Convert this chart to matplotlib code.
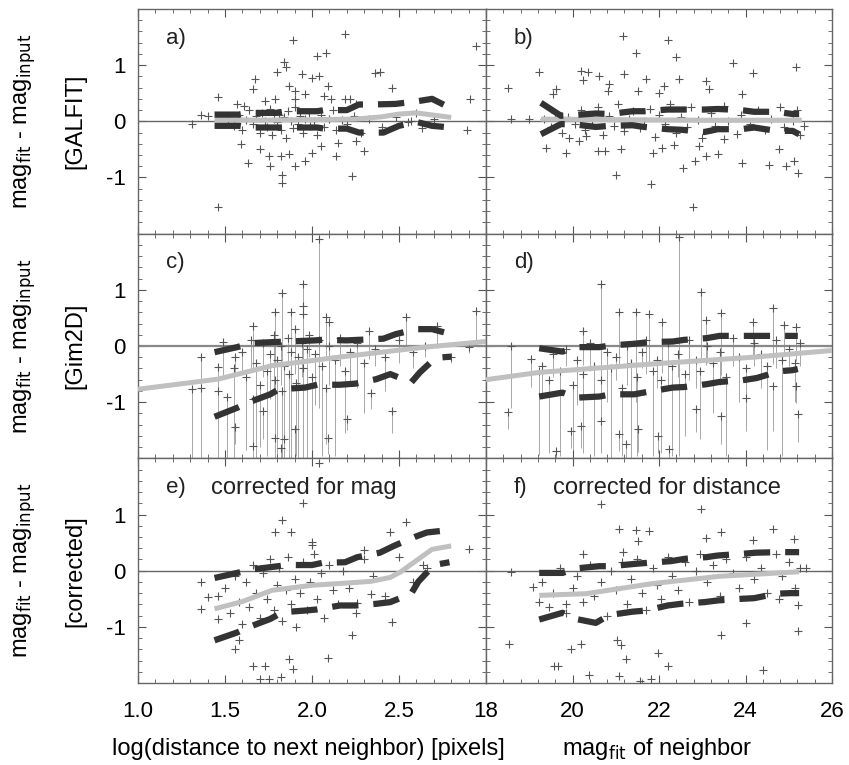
import matplotlib.pyplot as plt
from matplotlib.ticker import MultipleLocator

plt.rcParams['font.family'] = ['Liberation Sans', 'DejaVu Sans']
plt.rcParams['axes.unicode_minus'] = False

# ---- panel a) GALFIT vs log distance ----
a_x = [2.19, 1.89, 2.94, 2.03, 2.08, 1.84, 1.85, 1.80, 1.94, 2.00,
       2.36, 2.39, 1.67, 1.66, 1.87, 1.90, 2.04, 2.09, 2.46, 1.46,
       1.57, 1.61, 1.73, 1.79, 1.90, 1.96, 2.07, 2.11, 2.19, 2.22,
       2.25, 2.91, 1.36, 1.40, 1.31, 2.89, 1.59, 1.70, 1.75, 1.63,
       1.76, 1.82, 1.87, 1.90, 1.83, 1.83, 1.96, 2.00, 2.05, 2.14,
       2.15, 2.23, 2.25, 2.30, 1.46, 2.63, 2.57,
       1.52, 1.55, 1.58, 1.60, 1.62, 1.64, 1.66, 1.68, 1.70, 1.71,
       1.73, 1.74, 1.76, 1.77, 1.78, 1.80, 1.81, 1.82, 1.84, 1.85,
       1.86, 1.88, 1.89, 1.90, 1.92, 1.93, 1.95, 1.96, 1.98, 1.99,
       2.01, 2.03, 2.05, 2.07, 2.10, 2.12, 2.14, 2.17, 2.20, 2.24,
       2.28, 2.33, 2.40, 2.48, 2.55, 2.60, 2.70]
a_y = [1.55, 1.45, 1.35, 1.17, 1.21, 1.05, 0.96, 0.87, 0.84, 0.78,
       0.86, 0.87, 0.75, 0.57, 0.63, 0.54, 0.81, 0.63, 0.60, 0.44,
       0.30, 0.27, 0.36, 0.39, 0.39, 0.48, 0.45, 0.39, 0.39, 0.39,
       0.30, 0.40, 0.11, 0.10, -0.05, -0.15, -0.41, -0.50, -0.62, -0.74,
       -0.80, -0.62, -0.59, -0.80, -0.95, -1.10, -0.71, -0.56, -0.44, -0.62,
       -0.38, -0.98, -0.35, -0.53, -1.52, -0.11, 0.00,
       0.05, -0.08, 0.12, -0.15, 0.02, 0.20, -0.05, 0.10, -0.20, 0.15,
       0.00, -0.10, 0.22, -0.25, 0.05, -0.02, 0.12, -0.15, 0.08, -0.30,
       0.18, 0.00, -0.12, 0.25, -0.05, 0.10, -0.20, 0.05, 0.15, -0.08,
       0.00, -0.25, 0.12, -0.10, 0.05, 0.20, -0.15, 0.02, -0.05, 0.10,
       -0.20, 0.05, -0.10, 0.08, -0.02, 0.15, 0.05]
a_up_x = [1.44, 1.58, 1.65, 1.79, 1.85, 2.03, 2.07, 2.20, 2.27, 2.35, 2.48, 2.61, 2.69, 2.80]
a_up_y = [0.12, 0.12, 0.15, 0.15, 0.18, 0.18, 0.20, 0.20, 0.30, 0.30, 0.31, 0.36, 0.40, 0.23]
a_lo_x = [1.44, 1.58, 1.65, 1.79, 1.85, 2.03, 2.07, 2.20, 2.27, 2.41, 2.50, 2.60, 2.69, 2.80]
a_lo_y = [-0.08, -0.08, -0.11, -0.11, -0.11, -0.11, -0.13, -0.13, -0.20, -0.20, -0.08, -0.01, -0.08, -0.11]
a_med_x = [1.44, 1.70, 2.00, 2.25, 2.40, 2.50, 2.60, 2.80]
a_med_y = [0.03, 0.02, 0.03, 0.04, 0.08, 0.13, 0.15, 0.07]

# ---- panel b) GALFIT vs neighbour mag ----
b_x = [21.16, 22.20, 21.47, 22.39, 23.70, 25.17, 19.23, 20.20, 20.35, 20.62,
       21.20, 24.17, 18.50, 19.62, 19.54, 20.24, 20.85, 20.81, 21.70, 21.51,
       22.12, 22.01, 22.47, 23.09, 23.15, 23.93, 19.00, 18.58, 19.39, 19.85,
       20.16, 20.58, 20.74, 21.00, 21.12, 21.85, 21.81, 22.08, 22.35, 22.55,
       22.78, 22.84, 22.93, 23.09, 23.36, 23.51, 23.93, 24.54, 24.78, 24.94,
       25.13, 25.21, 25.36, 19.93, 20.31,
       19.35, 19.50, 19.60, 19.75, 19.90, 20.05, 20.20, 20.30, 20.45, 20.60,
       20.70, 20.85, 20.95, 21.05, 21.20, 21.30, 21.40, 21.55, 21.65, 21.80,
       21.90, 22.00, 22.15, 22.25, 22.40, 22.50, 22.65, 22.75, 22.90, 23.00,
       23.20, 23.30, 23.50, 23.60, 23.80, 23.90, 24.10, 24.30, 24.45, 24.60,
       24.80, 24.90, 25.10, 25.20, 25.25]
b_y = [1.52, 1.45, 1.21, 1.15, 1.04, 0.96, 0.87, 0.90, 0.87, 0.81,
       0.84, 0.86, 0.60, 0.57, 0.48, 0.74, 0.66, 0.54, 0.75, 0.54,
       0.63, 0.51, 0.75, 0.72, 0.57, 0.48, 0.04, 0.04, -0.47, -0.57,
       -0.35, -0.53, -0.53, -0.96, -0.50, -0.56, -1.11, -0.47, -0.43, -0.83,
       -1.52, -0.71, -0.44, -0.62, -0.59, -0.32, -0.74, -0.77, -0.50, -0.80,
       -0.71, -0.92, -0.08, -0.29, -0.26,
       0.05, -0.10, 0.15, -0.20, 0.08, -0.05, 0.20, -0.15, 0.02, 0.25,
       -0.25, 0.10, -0.08, 0.30, -0.18, 0.05, 0.18, -0.12, 0.00, 0.22,
       -0.28, 0.12, -0.05, 0.30, -0.20, 0.08, -0.10, 0.25, 0.02, -0.30,
       0.15, -0.08, 0.28, 0.00, -0.22, 0.12, -0.05, 0.20, -0.15, 0.05,
       0.25, -0.10, 0.00, 0.20, -0.25]
b_up_x = [19.27, 19.73, 20.00, 20.54, 20.85, 21.39, 21.66, 22.20, 22.51, 23.05, 23.36, 23.90, 24.20, 24.71, 25.09, 25.24]
b_up_y = [0.33, 0.10, 0.11, 0.14, 0.13, 0.18, 0.18, 0.21, 0.21, 0.21, 0.22, 0.20, 0.17, 0.17, 0.13, 0.13]
b_lo_x = [19.27, 19.73, 20.00, 20.54, 20.85, 21.39, 21.66, 22.20, 22.51, 23.05, 23.36, 23.90, 24.20, 24.71, 25.09, 25.24]
b_lo_y = [-0.23, -0.05, -0.05, -0.10, -0.08, -0.07, -0.10, -0.14, -0.15, -0.19, -0.14, -0.14, -0.11, -0.17, -0.17, -0.23]
b_med_x = [19.27, 21.0, 23.0, 25.3]
b_med_y = [0.04, 0.03, 0.02, 0.02]

# ---- panel c) Gim2D vs log distance (with error bars) ----
c_x = [2.04, 1.95, 1.83, 1.79, 1.88, 1.95, 1.95, 1.66, 2.94, 2.54,
       2.72, 2.33, 2.08, 2.10, 1.49, 1.36, 1.36, 1.46, 1.46, 1.56,
       1.56, 1.66, 1.66, 1.72, 1.79, 1.82, 1.84, 1.90, 2.09, 2.20,
       2.46, 2.34, 2.80, 2.90,
       1.55, 1.60, 1.62, 1.65, 1.68, 1.70, 1.72, 1.74, 1.76, 1.78,
       1.79, 1.80, 1.82, 1.83, 1.84, 1.86, 1.87, 1.88, 1.90, 1.91,
       1.92, 1.94, 1.95, 1.97, 1.98, 2.00, 2.02, 2.04, 2.06, 2.08,
       2.10, 2.13, 2.16, 2.19, 2.22, 2.26, 2.30, 2.36, 2.42, 2.50,
       2.58, 2.65, 1.31, 1.51]
c_y = [1.91, 1.11, 0.94, 0.60, 0.60, 0.72, 0.57, 0.36, 0.62, 0.51,
       0.36, 0.27, 0.51, 0.42, 0.08, -0.19, -0.74, -0.38, -0.80, -0.20,
       -1.45, -0.95, -1.78, -1.15, -1.63, -1.81, -1.66, -1.48, -1.63, -1.30,
       -1.15, -0.83, -0.20, -0.02,
       -0.40, -0.10, -0.55, 0.10, -0.30, -0.70, 0.05, -0.45, -0.15, 0.20,
       -0.60, -0.25, 0.00, -0.80, -0.35, 0.15, -0.50, -0.10, 0.30, -0.65,
       -0.20, 0.05, -0.40, -0.05, 0.20, -0.55, -0.15, 0.10, -0.35, -0.75,
       0.00, -0.25, 0.15, -0.45, -0.10, 0.05, -0.30, -0.05, -0.20, 0.10,
       -0.10, 0.00, -0.77, -0.90]
c_err = [1.9, 1.1, 1.2, 0.9, 1.3, 0.8, 1.0, 0.8, 0.6, 0.5,
         0.4, 0.5, 0.7, 0.9, 0.6, 0.5, 1.3, 0.4, 1.2, 0.3,
         0.3, 0.9, 0.3, 0.5, 0.3, 0.2, 0.3, 0.5, 0.3, 0.2,
         0.4, 0.3, 0.1, 0.1,
         1.6, 0.4, 1.3, 0.5, 1.7, 1.1, 0.6, 1.5, 0.8, 1.0,
         1.4, 1.8, 0.7, 1.2, 2.0, 0.5, 1.5, 1.9, 0.8, 1.3,
         1.8, 0.6, 1.6, 2.1, 0.4, 1.4, 0.9, 1.2, 1.6, 1.0,
         0.7, 1.7, 0.5, 1.1, 0.6, 0.8, 0.9, 0.3, 0.6, 0.4,
         0.3, 0.2, 1.3, 1.2]
c_up_x = [1.44, 1.57, 1.65, 1.78, 1.86, 2.02, 2.06, 2.20, 2.27, 2.41, 2.48, 2.60, 2.69, 2.80]
c_up_y = [-0.11, -0.02, 0.05, 0.07, 0.08, 0.10, 0.11, 0.10, 0.11, 0.13, 0.21, 0.30, 0.30, 0.21]
c_lo_x = [1.44, 1.57, 1.63, 1.76, 1.81, 1.96, 2.03, 2.16, 2.25, 2.37, 2.45, 2.57, 2.62, 2.71, 2.80]
c_lo_y = [-1.26, -1.10, -1.01, -0.86, -0.77, -0.74, -0.69, -0.69, -0.67, -0.59, -0.50, -0.65, -0.47, -0.21, -0.19]
c_med_x = [1.0, 1.46, 1.77, 2.15, 2.65, 3.0]
c_med_y = [-0.77, -0.59, -0.35, -0.20, -0.02, 0.08]

# ---- panel d) Gim2D vs neighbour mag (with error bars) ----
d_x = [22.47, 20.66, 22.97, 24.63, 21.08, 21.47, 21.78, 23.43, 24.17, 22.08,
       23.09, 20.24, 24.90, 25.17, 18.58, 18.52, 19.04, 19.23, 19.97, 20.20,
       19.62, 20.66, 21.08, 21.24, 21.51, 21.97, 22.22, 22.86, 23.43, 24.01,
       24.63, 25.21, 25.17,
       19.30, 19.45, 19.55, 19.70, 19.85, 20.00, 20.10, 20.25, 20.40, 20.50,
       20.65, 20.80, 20.90, 21.00, 21.15, 21.25, 21.35, 21.50, 21.60, 21.70,
       21.85, 21.95, 22.05, 22.20, 22.30, 22.45, 22.60, 22.70, 22.85, 22.95,
       23.10, 23.25, 23.40, 23.55, 23.70, 23.85, 24.00, 24.20, 24.35, 24.50,
       24.70, 24.85, 25.00, 25.15, 25.25]
d_y = [1.94, 1.11, 0.96, 0.68, 0.60, 0.60, 0.57, 0.58, 0.42, 0.42,
       0.46, 0.27, 0.38, 0.33, 0.00, -1.18, -0.23, -0.44, -1.51, -1.42,
       -1.87, -1.33, -1.57, -1.75, -1.48, -1.60, -1.84, -1.13, -1.24, -0.92,
       -0.71, -1.21, -0.71,
       -0.35, -0.60, -0.15, -0.45, -0.05, -0.70, -0.25, -0.50, 0.05, -0.35,
       -0.60, -0.10, -0.40, -0.20, -0.75, 0.00, -0.30, -0.55, -0.10, 0.10,
       -0.45, -0.25, -0.60, 0.05, -0.35, -0.15, -0.50, 0.10, -0.25, -0.45,
       0.00, -0.30, -0.10, -0.55, 0.15, -0.20, -0.40, 0.05, -0.15, -0.35,
       0.10, -0.25, -0.05, -0.30, 0.05]
d_err = [3.9, 2.9, 1.2, 1.0, 1.0, 1.6, 0.9, 1.1, 0.6, 0.9,
         0.8, 0.6, 0.5, 0.6, 1.1, 0.3, 0.5, 1.5, 0.3, 0.4,
         0.2, 0.5, 0.3, 0.3, 0.4, 0.3, 0.2, 0.4, 0.5, 0.6,
         0.8, 0.5, 0.3,
         0.6, 1.3, 0.4, 1.5, 0.3, 1.2, 0.8, 1.4, 0.5, 1.6,
         1.3, 0.9, 1.6, 0.4, 1.2, 0.7, 1.7, 1.4, 0.3, 0.6,
         1.5, 0.5, 1.3, 0.8, 1.6, 0.4, 1.1, 0.7, 0.5, 1.2,
         0.3, 0.9, 0.6, 1.4, 0.5, 0.8, 1.0, 0.4, 0.6, 1.5,
         0.5, 1.7, 0.3, 0.7, 0.4]
d_up_x = [19.23, 19.77, 20.08, 20.62, 20.89, 21.43, 21.78, 22.32, 22.59, 23.10, 23.40, 23.93, 24.26, 24.78, 25.09, 25.21]
d_up_y = [-0.04, -0.10, -0.02, -0.02, 0.01, 0.04, 0.07, 0.08, 0.11, 0.14, 0.18, 0.18, 0.18, 0.18, 0.18, 0.18]
d_lo_x = [19.23, 19.77, 20.08, 20.62, 20.89, 21.43, 21.78, 22.32, 22.59, 23.10, 23.40, 23.93, 24.26, 24.78, 25.09, 25.21]
d_lo_y = [-0.90, -0.83, -0.92, -0.90, -0.86, -0.86, -0.81, -0.74, -0.73, -0.68, -0.64, -0.61, -0.57, -0.45, -0.43, -0.41]
d_med_x = [18.0, 19.23, 21.85, 24.17, 26.0]
d_med_y = [-0.60, -0.47, -0.32, -0.20, -0.08]

# ---- panel e) corrected for mag, vs log distance ----
e_x = [2.04, 1.95, 1.83, 1.79, 1.88, 2.00, 2.00, 2.54, 2.45, 2.30,
       2.90, 2.64, 1.36, 1.36, 1.40, 1.46, 1.46, 1.56, 1.58, 1.66,
       1.73, 1.70, 1.75, 1.87, 1.89, 1.82, 2.09, 2.23, 2.46, 2.34,
       2.26,
       1.50, 1.53, 1.56, 1.58, 1.60, 1.62, 1.64, 1.66, 1.68, 1.70,
       1.72, 1.74, 1.76, 1.78, 1.80, 1.81, 1.83, 1.85, 1.86, 1.88,
       1.90, 1.91, 1.93, 1.95, 1.97, 1.99, 2.01, 2.03, 2.05, 2.07,
       2.10, 2.12, 2.15, 2.18, 2.21, 2.25, 2.30, 2.35, 2.42, 2.50,
       2.58, 2.66]
e_y = [1.91, 1.21, 0.91, 0.68, 0.68, 0.51, 0.45, 0.87, 0.68, 0.36,
       0.38, 0.10, -0.21, -0.69, -0.47, -0.45, -0.86, -1.40, -1.24, -1.69,
       -1.69, -1.92, -1.93, -1.57, -1.75, -1.90, -1.55, -1.15, -0.92, -0.41,
       -0.57,
       -0.30, -0.75, -0.10, -0.55, -0.95, -0.20, -0.65, 0.10, -0.40, -0.85,
       -0.05, -0.50, 0.20, -0.70, -0.25, 0.05, -0.90, -0.35, 0.25, -0.60,
       -0.15, -1.00, -0.40, 0.15, -0.70, -0.20, 0.30, -0.50, -0.05, -0.85,
       0.10, -0.35, -0.60, 0.00, -0.30, -0.75, 0.20, -0.10, -0.45, 0.25,
       -0.20, 0.05]
e_up_x = [1.44, 1.57, 1.65, 1.78, 1.86, 2.00, 2.06, 2.19, 2.26, 2.39, 2.47, 2.59, 2.66, 2.78]
e_up_y = [-0.13, -0.04, 0.02, 0.07, 0.10, 0.10, 0.14, 0.15, 0.24, 0.32, 0.44, 0.60, 0.68, 0.72]
e_lo_x = [1.44, 1.57, 1.64, 1.76, 1.83, 1.96, 2.03, 2.16, 2.25, 2.37, 2.45, 2.57, 2.61, 2.70, 2.79]
e_lo_y = [-1.24, -1.10, -1.00, -0.86, -0.74, -0.71, -0.69, -0.62, -0.62, -0.59, -0.56, -0.41, -0.20, 0.10, 0.15]
e_med_x = [1.44, 1.60, 1.77, 2.00, 2.20, 2.34, 2.45, 2.51, 2.60, 2.69, 2.80]
e_med_y = [-0.68, -0.55, -0.35, -0.26, -0.22, -0.19, -0.12, -0.02, 0.18, 0.38, 0.44]

# ---- panel f) corrected for distance, vs neighbour mag ----
f_x = [20.66, 22.97, 21.08, 21.47, 21.78, 24.63, 23.43, 23.09, 24.17, 25.13,
       21.51, 21.16, 20.24, 18.58, 19.08, 19.23, 19.85, 18.54, 19.97, 20.20,
       19.66, 19.58, 20.39, 21.08, 21.04, 21.12, 21.24, 21.97, 22.20, 24.40,
       23.43, 24.01, 25.21, 25.21, 24.78, 25.40, 21.55, 21.81,
       19.30, 19.45, 19.55, 19.70, 19.85, 20.00, 20.10, 20.25, 20.40, 20.50,
       20.65, 20.80, 20.90, 21.00, 21.15, 21.25, 21.35, 21.50, 21.60, 21.70,
       21.85, 21.95, 22.05, 22.20, 22.30, 22.45, 22.60, 22.70, 22.85, 22.95,
       23.10, 23.25, 23.40, 23.55, 23.70, 23.85, 24.00, 24.20, 24.35, 24.50,
       24.70, 24.85, 25.00, 25.15, 25.25]
f_y = [1.18, 1.09, 0.75, 0.72, 0.70, 0.75, 0.68, 0.59, 0.55, 0.56,
       0.52, 0.33, 0.30, -0.02, -0.29, -0.56, -0.59, -1.30, -1.40, -1.30,
       -1.69, -1.69, -1.86, -1.87, -1.24, -1.33, -1.57, -1.47, -1.70, -1.77,
       -1.14, -0.93, -1.07, -0.62, -0.50, 0.04, -1.96, -1.93,
       -0.20, -0.65, -0.40, 0.05, -0.75, -0.30, -0.10, -0.55, 0.10, -0.45,
       -0.20, -0.80, 0.00, -0.35, 0.15, -0.60, -0.15, 0.20, -0.40, -0.70,
       0.05, -0.25, -0.50, 0.25, -0.10, -0.35, 0.15, -0.55, 0.00, 0.30,
       -0.20, 0.10, -0.45, 0.20, -0.05, -0.30, 0.25, -0.15, 0.05, -0.40,
       0.30, -0.10, 0.15, -0.30, 0.05]
f_up_x = [19.23, 19.77, 20.08, 20.62, 20.89, 21.43, 21.74, 22.28, 22.59, 23.09, 23.36, 23.93, 24.24, 24.78, 25.09, 25.24]
f_up_y = [-0.04, -0.04, 0.04, 0.08, 0.08, 0.12, 0.14, 0.17, 0.21, 0.24, 0.27, 0.30, 0.32, 0.33, 0.33, 0.33]
f_lo_x = [19.23, 19.77, 20.08, 20.54, 20.85, 21.39, 21.70, 22.20, 22.51, 23.05, 23.36, 23.93, 24.20, 24.71, 25.05, 25.24]
f_lo_y = [-0.87, -0.75, -0.86, -0.93, -0.79, -0.73, -0.71, -0.62, -0.59, -0.56, -0.53, -0.50, -0.49, -0.41, -0.40, -0.40]
f_med_x = [19.23, 20.31, 21.85, 23.40, 25.24]
f_med_y = [-0.44, -0.41, -0.23, -0.10, -0.02]

LEFT_TICKS = [1.0, 1.5, 2.0, 2.5]
RIGHT_TICKS = [18, 20, 22, 24, 26]
Y_TICKS = [-1, 0, 1]

fig = plt.figure(figsize=(8.49, 7.65), dpi=100)
W, H = 849.0, 765.0
x_edges = [138 / W, 486 / W, 832 / W]
top, bottom = 1 - 9 / H, 1 - 683 / H
row_h = (top - bottom) / 3


def make_ax(col, row):
    x0, x1 = x_edges[col], x_edges[col + 1]
    y0 = top - (row + 1) * row_h
    ax = fig.add_axes([x0, y0, x1 - x0, row_h])
    if col == 0:
        ax.set_xlim(1.0, 3.0)
        ax.set_xticks(LEFT_TICKS)
        ax.set_xticklabels([f"{t:.1f}" for t in LEFT_TICKS])
        ax.xaxis.set_minor_locator(MultipleLocator(0.1))
    else:
        ax.set_xlim(18, 26)
        ax.set_xticks(RIGHT_TICKS)
        ax.set_xticklabels([str(t) for t in RIGHT_TICKS])
        ax.xaxis.set_minor_locator(MultipleLocator(0.4))
    ax.set_ylim(-2, 2)
    ax.set_yticks(Y_TICKS)
    ax.set_yticklabels([str(t) for t in Y_TICKS])
    ax.yaxis.set_minor_locator(MultipleLocator(0.2))
    ax.tick_params(which="both", direction="in", top=True, right=True,
                   color="#555555", labelsize=16)
    ax.tick_params(which="major", length=6, width=0.8)
    ax.tick_params(which="minor", length=3, width=0.6)
    ax.tick_params(axis="x", pad=13)
    ax.tick_params(axis="y", pad=9)
    if row < 2:
        ax.tick_params(axis="x", labelbottom=False)
    if col == 1:
        ax.tick_params(axis="y", labelleft=False)
    for sp in ax.spines.values():
        sp.set_color("#666666")
        sp.set_linewidth(1.0)
    return ax


def draw_panel(ax, x, y, up_x, up_y, lo_x, lo_y, med_x, med_y, err=None):
    if err is not None:
        ax.vlines(x, [yy - ee for yy, ee in zip(y, err)], y,
                  color="#a8a8a8", lw=0.7, zorder=1)
        ax.axhline(0, color="#888888", lw=1.6, zorder=2)
    else:
        ax.axhline(0, color="#666666", lw=1.0, zorder=2)
    ax.plot(x, y, linestyle="none", marker="+", ms=6, mew=0.8,
            color="#555555", zorder=3)
    ax.plot(med_x, med_y, color="#c0c0c0", lw=3.6, solid_capstyle="butt", zorder=4)
    for lx, ly in [(up_x, up_y), (lo_x, lo_y)]:
        ax.plot(lx, ly, color="#333333", lw=4.5, dashes=(4.2, 2.4),
                dash_capstyle="butt", zorder=5)


panels = [
    (0, 0, a_x, a_y, a_up_x, a_up_y, a_lo_x, a_lo_y, a_med_x, a_med_y, None, "a)", "", "[GALFIT]"),
    (1, 0, b_x, b_y, b_up_x, b_up_y, b_lo_x, b_lo_y, b_med_x, b_med_y, None, "b)", "", None),
    (0, 1, c_x, c_y, c_up_x, c_up_y, c_lo_x, c_lo_y, c_med_x, c_med_y, c_err, "c)", "", "[Gim2D]"),
    (1, 1, d_x, d_y, d_up_x, d_up_y, d_lo_x, d_lo_y, d_med_x, d_med_y, d_err, "d)", "", None),
    (0, 2, e_x, e_y, e_up_x, e_up_y, e_lo_x, e_lo_y, e_med_x, e_med_y, None, "e)", "corrected for mag", "[corrected]"),
    (1, 2, f_x, f_y, f_up_x, f_up_y, f_lo_x, f_lo_y, f_med_x, f_med_y, None, "f)", "corrected for distance", None),
]

for (col, row, x, y, ux, uy, lx, ly, mx, my, err, tag, note, ylab) in panels:
    ax = make_ax(col, row)
    draw_panel(ax, x, y, ux, uy, lx, ly, mx, my, err)
    ax.text(0.08, 0.87, tag, transform=ax.transAxes, fontsize=16,
            ha="left", va="center", color="#222222")
    if note:
        ax.text(0.21 if col == 0 else 0.195, 0.87, note, transform=ax.transAxes,
                fontsize=17, ha="left", va="center", color="#222222")
    if ylab:
        ax.text(-0.325, 0.5, r"mag$_{\rm fit}$ - mag$_{\rm input}$", transform=ax.transAxes,
                rotation=90, fontsize=17, ha="center", va="center")
        ax.text(-0.18, 0.5, ylab, transform=ax.transAxes,
                rotation=90, fontsize=17, ha="center", va="center")

fig.text(308 / W, 1 - 749 / H, "log(distance to next neighbor) [pixels]",
         fontsize=17, ha="center", va="center")
fig.text(657 / W, 1 - 749 / H, r"mag$_{\rm fit}$ of neighbor",
         fontsize=17, ha="center", va="center")

fig.savefig("out.png", dpi=100)
